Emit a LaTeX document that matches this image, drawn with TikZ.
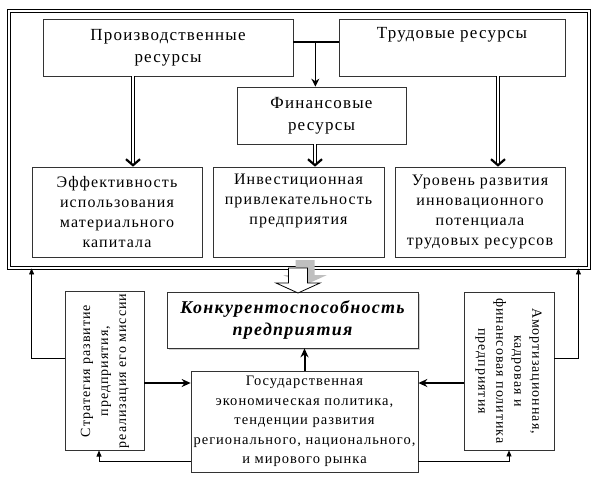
\documentclass[tikz,border=0pt]{standalone}
\usepackage{fontspec}
\setmainfont{Liberation Serif}[LetterSpace=7]
\usepackage{graphicx}
\usepackage{tikz}
\usetikzlibrary{arrows.meta}
\usetikzlibrary{shadows}

\begin{document}
\begin{tikzpicture}[x=1pt,y=-1pt,-,node distance=70pt,
	main node/.style={rectangle, draw=black!80, line width=0.7pt, fill=white, align=center, inner sep=2pt},
	top node/.style={main node, minimum height=57pt, font=\fontsize{17}{22}\selectfont},
	low node/.style={main node, minimum width=170pt, minimum height=90pt, font=\fontsize{16}{20}\selectfont},
	side node/.style={main node, minimum height=158pt, font=\fontsize{14}{18}\selectfont},
	thin arrow/.style={line width=0.7pt, -{Triangle[length=6pt,width=5pt]}},
	bold arrow/.style={line width=2pt, -{Stealth[length=9pt,width=8pt]}},
	dbl arrow/.style={double, double distance=2pt, line width=0.9pt, -{Straight Barb[length=6pt,width=14pt,line width=2.2pt]}}]
	
	\useasboundingbox (0,0) rectangle (596,479);
	
	\node[draw, double, double distance=1.5pt, line width=0.8pt, minimum width=580pt, minimum height=257pt] (0) at (299,139.5) {};
	
	\node[top node, minimum width=250pt] (1) at (168,47.5) {Производственные\\ресурсы};
	\node[top node, minimum width=226pt] (2) [right of=1, xshift=214pt] {Трудовые ресурсы\\ \strut};
	\node[top node, minimum width=169pt] (3) [below of=1, xshift=153.5pt, yshift=2pt] {Финансовые\\ресурсы};
	\node[low node, minimum width=171pt] (5) [below of=3, xshift=-23pt, yshift=-26.5pt] {Инвестиционная\\привлекательность\\предприятия\\ \strut};
	\node[low node] (4) [left of=5, xshift=-111.5pt] {Эффективность\\использования\\материального\\капитала};
	\node[low node] (6) [right of=5, xshift=111.5pt] {Уровень развития\\инновационного\\потенциала\\трудовых ресурсов};
	
	\node[main node, minimum width=251pt, minimum height=56pt, font=\bfseries\itshape\fontsize{18}{22}\selectfont,
		drop shadow={shadow xshift=1.5pt, shadow yshift=-1.5pt, fill=black!35}] (7) [below of=5, xshift=-6pt, yshift=-38pt] {Конкурентоспособность\\предприятия};
	\node[main node, minimum width=227pt, minimum height=101pt, font=\fontsize{14.5}{19.5}\selectfont] (9) [below of=7, xshift=12pt, yshift=-31.5pt] {Государственная\\экономическая политика,\\тенденции развития\\регионального, национального,\\и мирового рынка};
	\node[side node, minimum width=79pt] (8) [left of=7, xshift=-118pt, yshift=-51pt] {\rotatebox{90}{\begin{tabular}{@{}c@{}}Стратегия развитие\\предприятия,\\реализация его миссии\end{tabular}}};
	\node[side node, minimum width=90pt] (10) [right of=7, xshift=146.5pt, yshift=-51pt] {\rotatebox{-90}{\begin{tabular}{@{}c@{}}Амортизационная,\\кадровая и\\финансовая политика\\предприятия\end{tabular}}};
	
	% upper part
	\draw[line width=2.2pt] ([yshift=5.5pt]1.east) -- ([yshift=5.5pt]2.west);
	\draw[line width=1.6pt, -{Stealth[length=8pt,width=8pt]}] ([xshift=22pt,yshift=5.5pt]1.east) -- ([xshift=22pt]1.east |- 3.north);
	\draw[dbl arrow] ([xshift=-35pt]1.south) -- ([xshift=-35pt]1.south |- 4.north);
	\draw[dbl arrow] ([xshift=-6.5pt]3.south) -- ([xshift=-6.5pt]3.south |- 5.north);
	\draw[dbl arrow] ([xshift=46pt]2.south) -- ([xshift=46pt]2.south |- 6.north);
	
	% hollow arrow
	\draw[draw=none, fill=black!25, shift={(305,260)}] (-9.5,0) -- (-9.5,15) -- (-22,15) -- (0,25) -- (22,15) -- (9.5,15) -- (9.5,0) -- cycle;
	\draw[line width=0.8pt, fill=white, shift={(298,268)}] (-9.5,0) -- (-9.5,15) -- (-22,15) -- (0,25) -- (22,15) -- (9.5,15) -- (9.5,0) -- cycle;
	
	% lower part
	\draw[bold arrow] ([yshift=-12pt]8.east) -- ([yshift=-12pt]8.east -| 9.west);
	\draw[bold arrow] ([yshift=-12pt]10.west) -- ([yshift=-12pt]10.west -| 9.east);
	\draw[bold arrow] (9.north) -- (9.north |- 7.south);
	\draw[thin arrow] ([yshift=13pt]8.west) -| ([xshift=23pt]0.south west);
	\draw[thin arrow] ([yshift=-39.5pt]9.west) -| ([xshift=-5.5pt]8.south);
	\draw[thin arrow] ([yshift=-39.5pt]9.east) -| (10.south);
	\draw[thin arrow] ([yshift=13pt]10.east) -| ([xshift=-11pt]0.south east);
	
\end{tikzpicture}
\end{document}
